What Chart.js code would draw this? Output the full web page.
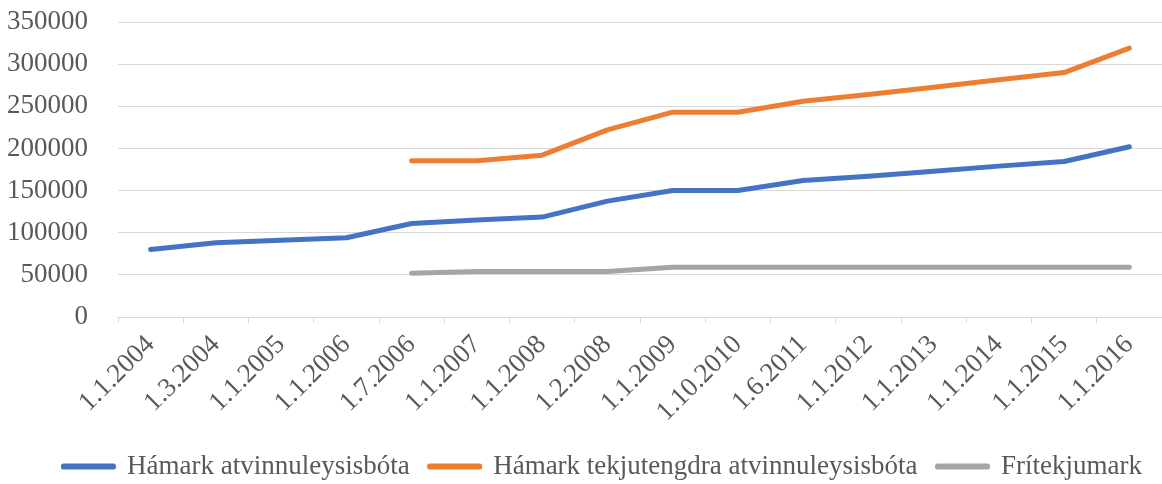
<!DOCTYPE html>
<html>
<head>
<meta charset="utf-8">
<script src="https://cdn.jsdelivr.net/npm/chart.js@4/dist/chart.umd.min.js"></script>
<style>
  body { margin: 0; background: #fff; }
  #wrap { width: 1162px; height: 484px; }
</style>
</head>
<body>
<div id="wrap"><canvas id="myChart" width="1162" height="484"></canvas></div>
<script>
const dates = ['1.1.2004', '1.3.2004', '1.1.2005', '1.1.2006', '1.7.2006', '1.1.2007', '1.1.2008', '1.2.2008',
  '1.1.2009', '1.10.2010', '1.6.2011', '1.1.2012', '1.1.2013', '1.1.2014', '1.1.2015', '1.1.2016'];

const hamark = [80000, 88000, 91000, 94000, 111000, 115000, 118500, 137500,
  150000, 150000, 162000, 167000, 173000, 179000, 184500, 202000];

const hamarkTekju = [null, null, null, null, 185500, 185500, 192000, 222000,
  243000, 243000, 256000, 264000, 272500, 281500, 290000, 319000];

const fritekjumark = [null, null, null, null, 52000, 54000, 54000, 54000,
  59000, 59000, 59000, 59000, 59000, 59000, 59000, 59000];

const yTicks = [0, 50000, 100000, 150000, 200000, 250000, 300000, 350000];

const font = '"Liberation Serif", "Times New Roman", serif';
const textColor = '#595959';
const gridColor = '#d9d9d9';

function lineSet(label, data, color) {
  return {
    label: label,
    data: data,
    borderColor: color,
    backgroundColor: color,
    borderWidth: 5,
    pointRadius: 0,
    borderCapStyle: 'round',
    borderJoinStyle: 'round',
    tension: 0
  };
}

let ctx = document.getElementById('myChart').getContext('2d');
let myChart = new Chart(ctx, {
  type: 'line',
  data: {
    labels: dates,
    datasets: [
      lineSet('Hámark atvinnuleysisbóta', hamark, '#4472C4'),
      lineSet('Hámark tekjutengdra atvinnuleysisbóta', hamarkTekju, '#ED7D31'),
      lineSet('Frítekjumark', fritekjumark, '#A5A5A5')
    ]
  },
  options: {
    responsive: false,
    animation: false,
    layout: { padding: { top: 22, right: 0, left: 0, bottom: -6 } },
    plugins: {
      tooltip: { enabled: false },
      legend: {
        position: 'bottom',
        align: 'end',
        labels: {
          font: { family: font, size: 27 },
          color: textColor,
          boxWidth: 50,
          boxHeight: 1,
          padding: 20
        }
      }
    },
    scales: {
      x: {
        offset: true,
        afterFit: (axis) => { axis.height = 116; },
        grid: {
          offset: true,
          drawOnChartArea: false,
          drawTicks: true,
          tickLength: 6,
          color: gridColor
        },
        border: { color: gridColor, width: 1 },
        ticks: {
          font: { family: font, size: 27 },
          color: textColor,
          minRotation: 45,
          maxRotation: 45,
          autoSkip: false,
          padding: 6
        }
      },
      y: {
        min: 0,
        max: 350000,
        afterBuildTicks: (axis) => { axis.ticks = yTicks.map(v => ({ value: v })); },
        afterFit: (axis) => { axis.width = 118; },
        grid: { color: gridColor, drawTicks: true, tickLength: 30, tickColor: 'rgba(0,0,0,0)' },
        border: { display: false },
        ticks: {
          font: { family: font, size: 27 },
          color: textColor,
          padding: 0,
          callback: (value) => String(value)
        }
      }
    }
  }
});
</script>
</body>
</html>
